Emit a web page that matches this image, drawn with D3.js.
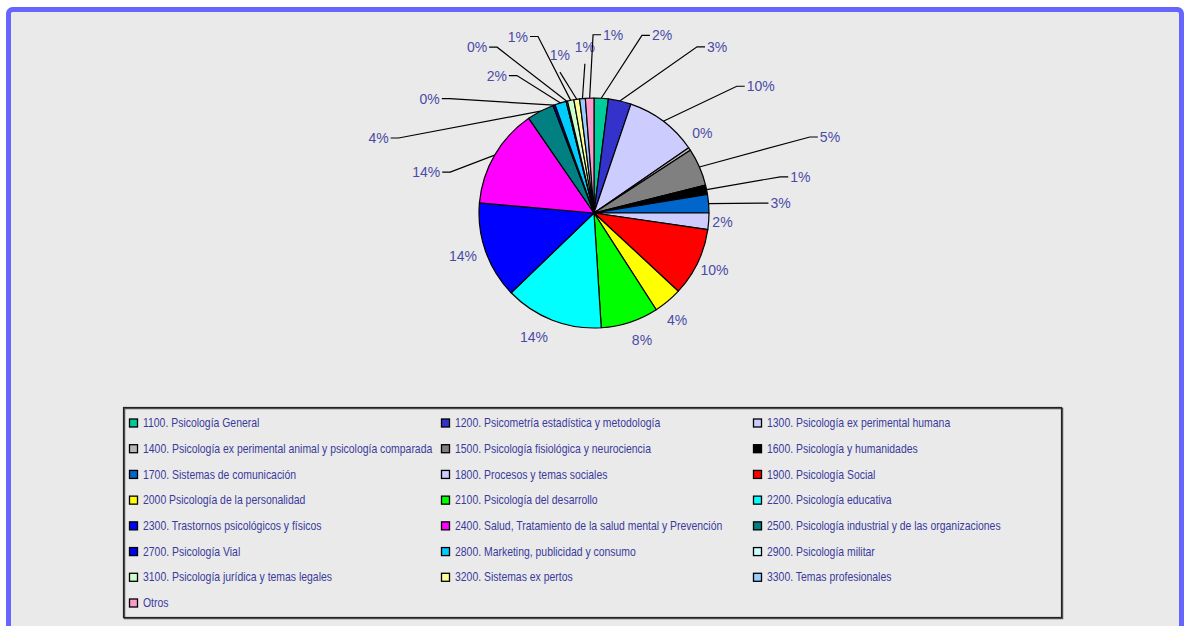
<!DOCTYPE html>
<html><head><meta charset="utf-8">
<script src="https://cdn.jsdelivr.net/npm/d3@7"></script>
<style>html,body{margin:0;padding:0;background:#fff;}svg{display:block;}</style>
</head><body>
<svg id="chart" width="1185" height="626"></svg>
<script>
// ---- data ----
const categories = [
  "1100. Psicología General",
  "1200. Psicometría estadística y metodología",
  "1300. Psicología ex perimental humana",
  "1400. Psicología ex perimental animal y psicología comparada",
  "1500. Psicología fisiológica y neurociencia",
  "1600. Psicología y humanidades",
  "1700. Sistemas de comunicación",
  "1800. Procesos y temas sociales",
  "1900. Psicología Social",
  "2000 Psicología de la personalidad",
  "2100. Psicología del desarrollo",
  "2200. Psicología educativa",
  "2300. Trastornos psicológicos y físicos",
  "2400. Salud, Tratamiento de la salud mental y Prevención",
  "2500. Psicología industrial y de las organizaciones",
  "2700. Psicología Vial",
  "2800. Marketing, publicidad y consumo",
  "2900. Psicología militar",
  "3100. Psicología jurídica y temas legales",
  "3200. Sistemas ex pertos",
  "3300. Temas profesionales",
  "Otros"
];
const values = [2.0, 3.2, 10.2, 0.4, 5.3, 1.3, 2.6, 2.3, 9.6, 4.0, 8.1, 13.8, 13.6, 14.0, 3.8, 0.3, 1.6, 0.2, 0.9, 0.8, 0.8, 1.2];
const colors = ["#00CC99","#3333CC","#CCCCFF","#B8B8B8","#808080","#000000","#0066CC","#CCCCFF","#FF0000","#FFFF00","#00FF00","#00FFFF","#0000FF","#FF00FF","#008080","#0000EE","#00CCFF","#CCFFFF","#CCFFCC","#FFFF99","#99CCFF","#FF99CC"];

// ---- label layout (polar: degrees clockwise from top, radius as multiple of pie radius) ----
const labelLayout = [
  {a:15.1, r:1.60, leader:true},
  {a:31.8, r:1.70, leader:true},
  {a:48.4, r:1.66, leader:true},
  {a:53.7, r:1.17, leader:false},
  {a:70.6, r:1.99, leader:true},
  {a:79.0, r:1.65, leader:true},
  {a:86.6, r:1.45, leader:true},
  {a:94.0, r:1.12, leader:false},
  {a:115.4,r:1.16, leader:false},
  {a:142.2,r:1.18, leader:false},
  {a:159.3,r:1.18, leader:false},
  {a:205.8,r:1.20, leader:false},
  {a:251.8,r:1.20, leader:false},
  {a:285.9,r:1.30, leader:true},
  {a:291.0,r:1.82, leader:true},
  {a:308.4,r:1.60, leader:true},
  {a:330.7,r:1.37, leader:true},
  {a:329.7,r:1.67, leader:true},
  {a:342.4,r:1.61, leader:true},
  {a:346.4,r:1.26, leader:true, above:true},
  {a:356.5,r:1.30, leader:true, above:true},
  {a:359.7,r:1.55, leader:true, right:true}
];

const svg = d3.select("#chart");

// frame
svg.append("rect").attr("x",8.5).attr("y",9.5).attr("width",1173).attr("height",640)
  .attr("rx",4).attr("fill","#EAEAEA").attr("stroke","#6666FF").attr("stroke-width",5);

// pie
const cx = 594, cy = 213, R = 115;
const color = d3.scaleOrdinal().domain(categories).range(colors);
const total = d3.sum(values);
const data = categories.map((c,i)=>({cat:c, value:values[i], i}));
const pie = d3.pie().sort(null).value(d=>d.value);
const arcs = pie(data);
const arc = d3.arc().innerRadius(0).outerRadius(R);

const g = svg.append("g").attr("transform",`translate(${cx},${cy})`);
g.selectAll("path.slice").data(arcs).join("path")
  .attr("class","slice")
  .attr("d",arc)
  .attr("fill",d=>color(d.data.cat))
  .attr("stroke","#000").attr("stroke-width",1.2).attr("stroke-linejoin","round");

const rad = a => a*Math.PI/180;
const polar = (angRad, r) => [Math.sin(angRad)*r, -Math.cos(angRad)*r];
const labelColor = "#4A4AA6";
const fmt = v => Math.round(v/total*100) + "%";

arcs.forEach((d,i)=>{
  const L = labelLayout[i];
  const txt = fmt(d.data.value);
  const [ex, ey] = polar(rad(L.a), L.r*R);
  if (!L.leader) {
    g.append("text").attr("x",ex).attr("y",ey).attr("dy","0.36em")
      .attr("text-anchor","middle").attr("fill",labelColor)
      .attr("font-family","Liberation Sans, Arial, sans-serif").attr("font-size",14)
      .text(txt);
    return;
  }
  const mid = (d.startAngle+d.endAngle)/2;
  const [sx, sy] = polar(mid, R);
  const rightSide = L.right || (Math.sin(rad(L.a))>0);
  let pts;
  if (L.above) {
    pts = [[sx,sy],[ex,ey]];
  } else {
    const hx = ex + (rightSide ? 8 : -8);
    pts = [[sx,sy],[ex,ey],[hx,ey]];
  }
  g.append("path").attr("d", d3.line()(pts)).attr("fill","none")
    .attr("stroke","#000").attr("stroke-width",1.2);
  const t = g.append("text").attr("fill",labelColor)
    .attr("font-family","Liberation Sans, Arial, sans-serif").attr("font-size",14)
    .text(txt);
  if (L.above) {
    t.attr("x",ex).attr("y",ey-12).attr("text-anchor","middle");
  } else {
    t.attr("x", ex + (rightSide ? 10 : -10)).attr("y",ey).attr("dy","0.36em")
     .attr("text-anchor", rightSide ? "start" : "end");
  }
});

// legend
const lg = svg.append("g");
lg.append("rect").attr("x",124.5).attr("y",408.5).attr("width",938).attr("height",210)
  .attr("fill","none").attr("stroke","#555").attr("stroke-width",1.5);
lg.append("rect").attr("x",123.5).attr("y",407.5).attr("width",938).attr("height",210)
  .attr("fill","none").attr("stroke","#222").attr("stroke-width",1.2);
const nCols = 3;
const colX = d3.scalePoint().domain(d3.range(nCols)).range([129, 753]);
const nRows = Math.ceil(categories.length/nCols);
const rowY = d3.scalePoint().domain(d3.range(nRows)).range([423, 603]);
const items = lg.selectAll("g.item").data(categories).join("g").attr("class","item")
  .attr("transform",(c,i)=>`translate(${colX(i%nCols)},${rowY(Math.floor(i/nCols))})`);
items.append("rect").attr("x",0.5).attr("y",-4).attr("width",8).attr("height",8)
  .attr("fill",c=>color(c)).attr("stroke","#000").attr("stroke-width",1.3);
items.append("text").attr("transform","translate(14,0) scale(0.87,1)")
  .attr("dy","0.35em")
  .attr("fill","#3A3A9C").attr("font-family","Liberation Sans, Arial, sans-serif")
  .attr("font-size",12).text(c=>c);
</script>
</body></html>
